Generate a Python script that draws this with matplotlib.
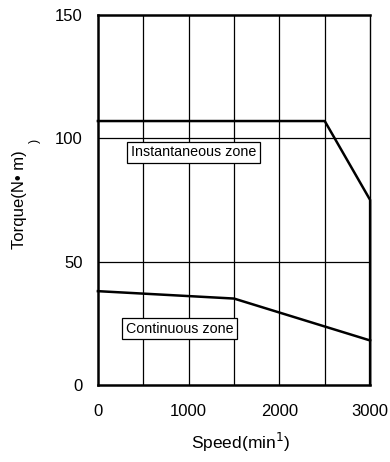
import matplotlib
matplotlib.use("Agg")
import matplotlib.pyplot as plt

plt.rcParams['font.family'] = ['Liberation Sans', 'DejaVu Sans']

# instantaneous zone boundary
inst_speed = [0, 2500, 3000, 3000]
inst_torque = [107, 107, 75, 0]
# continuous zone boundary
cont_speed = [0, 1500, 3000]
cont_torque = [38, 35, 18]

x_ticks = [0, 1000, 2000, 3000]
y_ticks = [0, 50, 100, 150]

fig = plt.figure(figsize=(3.9, 4.62), dpi=100)
ax = fig.add_axes([0.251, 0.167, 0.698, 0.8005])

ax.set_xlim(0, 3000)
ax.set_ylim(0, 150)

for xv in range(500, 3000, 500):
    ax.axvline(xv, color='black', lw=0.9, zorder=1)
for yv in [50, 100]:
    ax.axhline(yv, color='black', lw=0.9, zorder=1)

ax.plot(inst_speed, inst_torque, color='black', lw=1.8, zorder=3, clip_on=False)
ax.plot(cont_speed, cont_torque, color='black', lw=1.8, zorder=3, clip_on=False)

box = dict(boxstyle='square,pad=0.25', facecolor='white', edgecolor='black', lw=0.9)
ax.text(360, 94.4, "Instantaneous zone", fontsize=10.3, va='center', ha='left', bbox=box, zorder=4)
ax.text(310, 22.7, "Continuous zone", fontsize=10.3, va='center', ha='left', bbox=box, zorder=4)

ax.set_xticks(x_ticks)
ax.set_yticks(y_ticks)
ax.tick_params(length=0, labelsize=12)
ax.tick_params(axis='x', pad=14)
ax.tick_params(axis='y', pad=11)

for s in ['left', 'bottom', 'top']:
    ax.spines[s].set_linewidth(1.8)
ax.spines['right'].set_linewidth(1.0)

ax.set_xlabel("Speed(min$^1$)", fontsize=12.5, labelpad=12)
ax.xaxis.set_label_coords(0.526, -0.125)
ax.set_ylabel("Torque(N\u2022 m)", fontsize=12, labelpad=20)

# small stray mark left of the 100 label
fig.text(35 / 390, 1 - 141 / 462, ")", rotation=90, fontsize=9, ha='center', va='center')

fig.savefig("out.png", dpi=100)
